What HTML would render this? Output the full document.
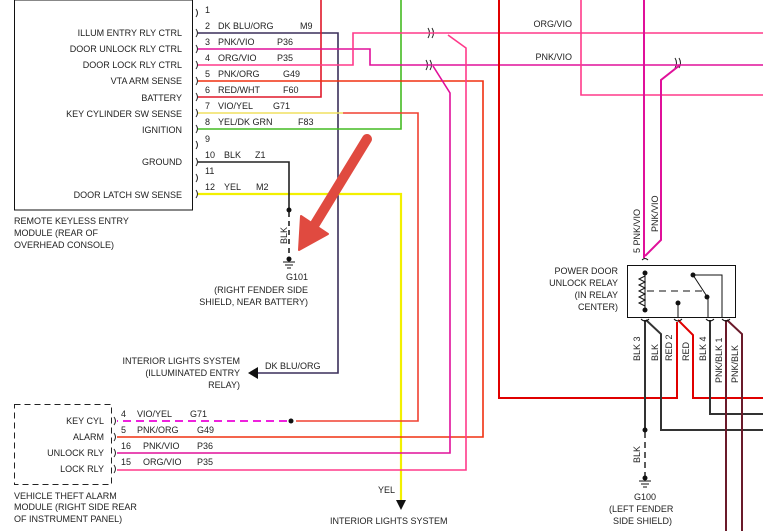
<!DOCTYPE html>
<html><head><meta charset="utf-8"><style>
html,body{margin:0;padding:0;background:#fff;}
svg{display:block;}
text{font-family:"Liberation Sans",sans-serif;font-size:9px;fill:#222;}
</style></head><body>
<svg width="763" height="531" viewBox="0 0 763 531" xmlns="http://www.w3.org/2000/svg">
<g fill="none" stroke-width="1.6">
<rect x="14.5" y="0" width="178" height="210" stroke="#111" stroke-width="1"/>
<g stroke="#222" stroke-width="1">
<path d="M196,9 q3,4 0,8"/><path d="M196,29 q3,4 0,8"/><path d="M196,45 q3,4 0,8"/><path d="M196,61 q3,4 0,8"/>
<path d="M196,77 q3,4 0,8"/><path d="M196,93 q3,4 0,8"/><path d="M196,109 q3,4 0,8"/><path d="M196,125 q3,4 0,8"/>
<path d="M196,141 q3,4 0,8"/><path d="M196,158 q3,4 0,8"/><path d="M196,174 q3,4 0,8"/><path d="M196,190 q3,4 0,8"/>
<path d="M114,417 q3,4 0,8"/><path d="M114,433 q3,4 0,8"/><path d="M114,449 q3,4 0,8"/><path d="M114,465 q3,4 0,8"/>
<path d="M428,28 q3,5 0,10"/><path d="M432,28 q3,5 0,10"/>
<path d="M426,60 q3,5 0,10"/><path d="M430,60 q3,5 0,10"/>
<path d="M675,58 q3,5 0,10"/><path d="M679,58 q3,5 0,10"/>
</g>
<polyline points="198,33 338,33 338,373 258,373" stroke="#3a2f5a"/>
<polyline points="198,97 321,97 321,0" stroke="#e0182a"/>
<polyline points="198,129 401,129 401,0" stroke="#44bb22"/>
<polyline points="198,194 401,194 401,502" stroke="#f2f000" stroke-width="2.2"/>
<polyline points="198,162 289,162 289,210" stroke="#222"/>
<line x1="289" y1="212" x2="289" y2="256" stroke="#222" stroke-dasharray="5,4"/>
<polyline points="198,113 343,113" stroke="#f0e060"/>
<polyline points="343,113 418,113 418,421 296,421" stroke="#f04030"/>
<line x1="287" y1="421" x2="117" y2="421" stroke="#ee22dd" stroke-dasharray="8,5" stroke-width="2"/>
<polyline points="198,81 483,81 483,437 117,437" stroke="#f03010"/>
<polyline points="198,49 370,49 370,65 430,65 763,65" stroke="#e0109a"/>
<polyline points="433,66 450,93 450,453 117,453" stroke="#e0109a"/>
<polyline points="198,65 353,65 353,33 763,33" stroke="#ff3a8a"/>
<polyline points="448,35 466,48 466,470 117,470" stroke="#ff3a8a"/>
<polyline points="499,0 499,398 677,398 677,322" stroke="#e00000" stroke-width="2"/>
<polyline points="581,0 581,95 763,95" stroke="#ff3a8a"/>
<polyline points="644,0 644,258" stroke="#e0109a" stroke-width="2"/>
<polyline points="680,65 661,80 661,240 645,256" stroke="#e0109a" stroke-width="2"/>
<polyline points="645,320 645,428" stroke="#333" stroke-width="2"/>
<line x1="645" y1="432" x2="645" y2="476" stroke="#333" stroke-dasharray="6,4" stroke-width="1.6"/>
<polyline points="646,320 661,334 661,430 763,430" stroke="#333" stroke-width="2"/>
<polyline points="678,320 693,335 693,398 763,398" stroke="#e00000" stroke-width="2"/>
<polyline points="710,320 710,414 763,414" stroke="#333" stroke-width="2"/>
<polyline points="726,320 726,531" stroke="#6a1a2a" stroke-width="2"/>
<polyline points="727,320 742,334 742,531" stroke="#6a1a2a" stroke-width="2"/>
<rect x="627.5" y="265.5" width="108" height="52" stroke="#111" stroke-width="1"/>
<g stroke="#111" stroke-width="1">
<path d="M645,273 L645,310"/>
<path d="M645,276 l-6,3 l6,3 l-6,3 l6,3 l-6,3 l6,3 l-6,3 l6,3 l-6,3 l6,3"/>
<path d="M647,291 L703,291" stroke-dasharray="7,5"/>
<path d="M693,275 L708,298"/>
<path d="M693,275 L722,275 L722,318"/>
<path d="M708,298 L708,318"/>
<path d="M678,303 L678,318"/>
<path d="M642,260 q3,-3 6,0"/><path d="M641,319 q4,4 8,0"/><path d="M674,319 q4,4 8,0"/><path d="M706,319 q4,4 8,0"/><path d="M722,319 q4,4 8,0"/>
</g>
<g fill="#111" stroke="none">
<circle cx="645" cy="273" r="2.5"/><circle cx="645" cy="310" r="2.5"/><circle cx="678" cy="303" r="2.5"/>
<circle cx="693" cy="275" r="2.5"/><circle cx="707" cy="297" r="2.5"/>
<circle cx="289" cy="210" r="2.5"/><circle cx="289" cy="259" r="2.5"/><circle cx="291" cy="421" r="2.5"/>
<circle cx="645" cy="430" r="2.5"/><circle cx="645" cy="478" r="2.5"/>
<polygon points="248,373 258,367 258,379"/>
<polygon points="396,500 406,500 401,510"/>
</g>
<g stroke="#111" stroke-width="1">
<path d="M283,262 h12 M285,265 h8 M287,268 h4"/>
<path d="M639,481 h12 M641,484 h8 M643,487 h4"/>
</g>
<rect x="14.5" y="404.5" width="97" height="80" stroke="#222" stroke-width="1" stroke-dasharray="6,4"/>
<line x1="367" y1="139" x2="315" y2="224" stroke="#e04a40" stroke-width="10" stroke-linecap="round"/>
<polygon points="299,250 301,216 328,234" fill="#e04a40" stroke="#e04a40" stroke-width="2" stroke-linejoin="round"/>
</g>
<g text-anchor="end">
<text x="182" y="36">ILLUM ENTRY RLY CTRL</text>
<text x="182" y="52">DOOR UNLOCK RLY CTRL</text>
<text x="182" y="68">DOOR LOCK RLY CTRL</text>
<text x="182" y="84">VTA ARM SENSE</text>
<text x="182" y="101">BATTERY</text>
<text x="182" y="117">KEY CYLINDER SW SENSE</text>
<text x="182" y="133">IGNITION</text>
<text x="182" y="165">GROUND</text>
<text x="182" y="198">DOOR LATCH SW SENSE</text>
<text x="104" y="424">KEY CYL</text>
<text x="104" y="440">ALARM</text>
<text x="104" y="456">UNLOCK RLY</text>
<text x="104" y="472">LOCK RLY</text>
<text x="240" y="364">INTERIOR LIGHTS SYSTEM</text>
<text x="240" y="376">(ILLUMINATED ENTRY</text>
<text x="240" y="388">RELAY)</text>
<text x="308" y="280">G101</text>
<text x="308" y="293">(RIGHT FENDER SIDE</text>
<text x="308" y="305">SHIELD, NEAR BATTERY)</text>
<text x="618" y="274">POWER DOOR</text>
<text x="618" y="286">UNLOCK RELAY</text>
<text x="618" y="298">(IN RELAY</text>
<text x="618" y="310">CENTER)</text>
<text x="572" y="27">ORG/VIO</text>
<text x="572" y="60">PNK/VIO</text>
</g>
<text x="205" y="13">1</text>
<text x="205" y="29">2</text><text x="218" y="29">DK BLU/ORG</text><text x="300" y="29">M9</text>
<text x="205" y="45">3</text><text x="218" y="45">PNK/VIO</text><text x="277" y="45">P36</text>
<text x="205" y="61">4</text><text x="218" y="61">ORG/VIO</text><text x="277" y="61">P35</text>
<text x="205" y="77">5</text><text x="218" y="77">PNK/ORG</text><text x="283" y="77">G49</text>
<text x="205" y="93">6</text><text x="218" y="93">RED/WHT</text><text x="283" y="93">F60</text>
<text x="205" y="109">7</text><text x="218" y="109">VIO/YEL</text><text x="273" y="109">G71</text>
<text x="205" y="125">8</text><text x="218" y="125">YEL/DK GRN</text><text x="298" y="125">F83</text>
<text x="205" y="142">9</text>
<text x="205" y="158">10</text><text x="224" y="158">BLK</text><text x="255" y="158">Z1</text>
<text x="205" y="174">11</text>
<text x="205" y="190">12</text><text x="224" y="190">YEL</text><text x="256" y="190">M2</text>
<text x="14" y="224">REMOTE KEYLESS ENTRY</text>
<text x="14" y="236">MODULE   (REAR OF</text>
<text x="14" y="248">OVERHEAD CONSOLE)</text>
<text x="265" y="369">DK BLU/ORG</text>
<text x="121" y="417">4</text><text x="137" y="417">VIO/YEL</text><text x="190" y="417">G71</text>
<text x="121" y="433">5</text><text x="137" y="433">PNK/ORG</text><text x="197" y="433">G49</text>
<text x="121" y="449">16</text><text x="143" y="449">PNK/VIO</text><text x="197" y="449">P36</text>
<text x="121" y="465">15</text><text x="143" y="465">ORG/VIO</text><text x="197" y="465">P35</text>
<text x="14" y="499">VEHICLE THEFT ALARM</text>
<text x="14" y="510">MODULE   (RIGHT SIDE REAR</text>
<text x="14" y="522">OF INSTRUMENT PANEL)</text>
<text x="378" y="493">YEL</text>
<text x="330" y="524">INTERIOR LIGHTS SYSTEM</text>
<text x="634" y="500">G100</text>
<text x="609" y="512">(LEFT FENDER</text>
<text x="613" y="524">SIDE SHIELD)</text>
<g>
<text transform="translate(287,244) rotate(-90)">BLK</text>
<text transform="translate(640,253) rotate(-90)">5   PNK/VIO</text>
<text transform="translate(658,232) rotate(-90)">PNK/VIO</text>
<text transform="translate(640,361) rotate(-90)">BLK   3</text>
<text transform="translate(658,361) rotate(-90)">BLK</text>
<text transform="translate(672,361) rotate(-90)">RED   2</text>
<text transform="translate(689,361) rotate(-90)">RED</text>
<text transform="translate(706,361) rotate(-90)">BLK   4</text>
<text transform="translate(722,383) rotate(-90)">PNK/BLK   1</text>
<text transform="translate(738,383) rotate(-90)">PNK/BLK</text>
<text transform="translate(640,463) rotate(-90)">BLK</text>
</g>
</svg>
</body></html>
